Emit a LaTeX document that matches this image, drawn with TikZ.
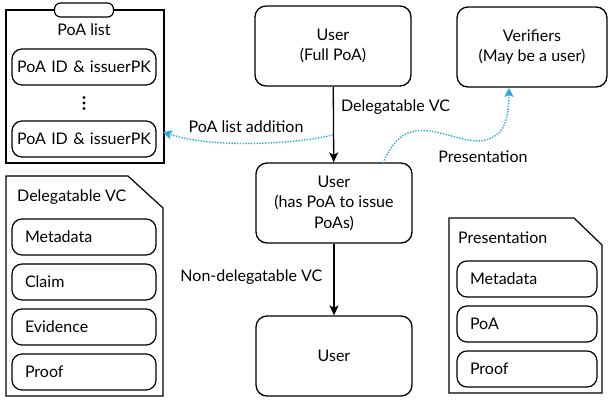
\documentclass[tikz,border=0pt]{standalone}
\usepackage{fontspec}
\setmainfont{Lato}
\usetikzlibrary{arrows.meta}
\definecolor{dotblue}{HTML}{29A9E0}
\newcommand{\fs}{\fontsize{16}{20.5}\selectfont}
\tikzset{
  bigbox/.style={draw, line width=1.3pt, rounded corners=11pt, minimum width=156pt, minimum height=80pt, align=center, font=\fs},
  inbox/.style={draw, line width=1.2pt, rounded corners=10pt, minimum width=144pt, minimum height=36pt, text width=118pt, inner xsep=13pt, align=left, font=\fs},
  inboxc/.style={inbox, align=center, text width=140pt, inner xsep=2pt},
  outline/.style={draw, line width=1.2pt},
  lbl/.style={font=\fs, inner sep=0pt},
  blk/.style={line width=1.3pt, -{Stealth[length=10pt, width=9pt, inset=2.5pt]}},
  blu/.style={dotblue, line width=1.4pt, dash pattern=on 1.4pt off 1.4pt, -{Stealth[length=9pt, width=9pt, inset=2pt, sep=0pt]}},
}
\begin{document}
\begin{tikzpicture}[x=1pt, y=-1pt]
\useasboundingbox (0,0) rectangle (610,400);
% PoA list clipboard
\draw[outline] (6,10) rectangle (164,163);
\node[draw, line width=1.2pt, fill=white, rounded corners=6pt, minimum width=59pt, minimum height=14pt, inner sep=0pt] (tab) at (84,10) {};
\node[lbl] (poatitle) at (84,30) {PoA list};
\node[inboxc] (poa1) at (84,67) {PoA ID \& issuerPK};
\node[inner sep=0pt, minimum size=16pt] (dots) at (84,103) {};
\foreach \d in {-5.5,0,5.5} \fill ([yshift=\d pt]dots.center) circle (1.6pt);
\node[inboxc] (poa2) at (84,139) {PoA ID \& issuerPK};
% Delegatable VC document
\draw[outline] (6,176) -- (128,176) -- (163,208) -- (163,396) -- (6,396) -- cycle;
\node[lbl, anchor=west] (dvctitle) at (17,197) {Delegatable VC};
\node[inbox] (meta1) at (84,237) {Metadata};
\node[inbox] (claim) at (84,282) {Claim};
\node[inbox] (evid) at (84,327) {Evidence};
\node[inbox] (proof1) at (84,372) {Proof};
% Presentation document
\draw[outline] (449,218) -- (574,218) -- (602,245) -- (602,393) -- (449,393) -- cycle;
\node[lbl, anchor=west] (prestitle) at (458,238) {Presentation};
\node[inbox, minimum width=140pt, text width=114pt] (meta2) at (527,279) {Metadata};
\node[inbox, minimum width=140pt, text width=114pt] (poa) at (527,324) {PoA};
\node[inbox, minimum width=140pt, text width=114pt] (proof2) at (527,369) {Proof};
% Users
\node[bigbox] (u1) at (333,46) {User\\(Full PoA)};
\node[bigbox, minimum width=150pt] (ver) at (532,47) {Verifiers\\(May be a user)};
\node[bigbox] (u2) at (334,203) {User\\(has PoA to issue\\PoAs)};
\node[bigbox] (u3) at (334,356) {User};
% arrows
\draw[blk] (u1) -- (u2) node[lbl, pos=0.27, anchor=west, xshift=7pt] (l1) {Delegatable VC};
\draw[blk] (u2) -- (u3) node[lbl, midway, anchor=east, xshift=-11pt, yshift=2.5pt] (l2) {Non-delegatable VC};
\coordinate (a1) at (333,135);
\coordinate (a2) at (163,132);
\draw[blu] (a1) .. controls (290,145) and (210,148) .. (a2);
\node[lbl] (l3) at (246,127) {PoA list addition};
\coordinate (b1) at (383,163);
\coordinate (b2) at (509,88);
\draw[blu] (b1) .. controls (395,135) and (410,128) .. (430,131) .. controls (460,136) and (480,150) .. (500,132) .. controls (508,122) and (509,105) .. (b2);
\node[lbl] (l4) at (483,157) {Presentation};
\end{tikzpicture}
\end{document}
